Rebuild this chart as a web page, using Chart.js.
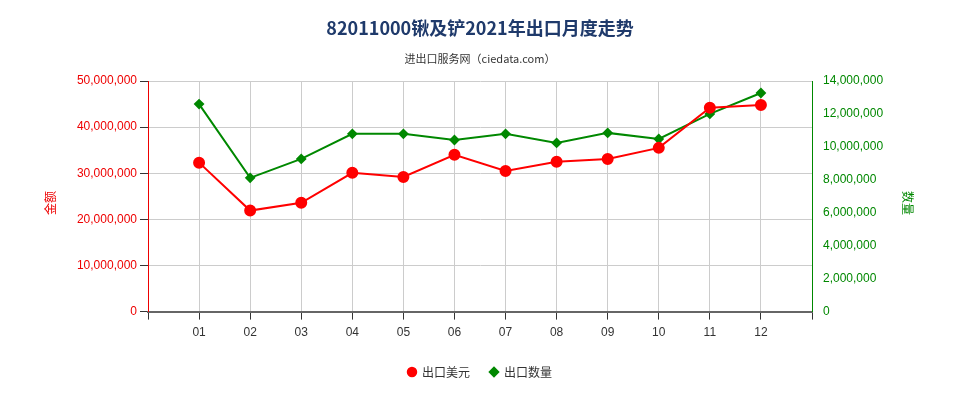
<!DOCTYPE html>
<html><head><meta charset="utf-8">
<script src="https://cdn.jsdelivr.net/npm/chart.js@4"></script>
<style>body{margin:0;background:#fff}</style>
</head><body><canvas id="c" width="960" height="400"></canvas>
<script>
const categories=['','01','02','03','04','05','06','07','08','09','10','11','12',''];
const exportValue=[null,32300000,21900000,23600000,30100000,29200000,34000000,30500000,32500000,33100000,35500000,44200000,44800000,null];
const exportQty=[null,12600000,8120000,9270000,10790000,10790000,10420000,10790000,10240000,10850000,10480000,12000000,13270000,null];
const leftTicks=[0,10000000,20000000,30000000,40000000,50000000];
const rightTicks=[0,2000000,4000000,6000000,8000000,10000000,12000000,14000000];
const F='"Noto Sans CJK SC","Noto Sans",sans-serif';
const titles={id:'titles',afterDraw(ch){const x=ch.ctx;x.save();x.textAlign='center';
x.fillStyle='#1f3a6b';x.font='bold 18px '+F;x.fillText('82011000锹及铲2021年出口月度走势',480,28);
x.fillStyle='#333';x.font='11px '+F;x.fillText('进出口服务网（ciedata.com）',480,59);
x.font='12px '+F;x.fillStyle='#e00';x.save();x.translate(46,203);x.rotate(-Math.PI/2);x.fillText('金额',0,4);x.restore();
x.fillStyle='#080';x.save();x.translate(912,203);x.rotate(Math.PI/2);x.fillText('数量',0,4);x.restore();
x.restore();}};
new Chart(document.getElementById('c'),{type:'line',data:{labels:categories,datasets:[
{label:'出口美元',data:exportValue,borderColor:'#f00',backgroundColor:'#f00',yAxisID:'y',pointRadius:5,pointStyle:'circle',borderWidth:2},
{label:'出口数量',data:exportQty,borderColor:'#080',backgroundColor:'#080',yAxisID:'y1',pointRadius:4,pointStyle:'rectRot',borderWidth:2}]},
options:{responsive:false,animation:false,layout:{padding:{top:81,left:0,right:0,bottom:12}},
plugins:{legend:{position:'bottom',labels:{usePointStyle:true,boxWidth:8,boxHeight:6,padding:20,font:{family:F,size:12},color:'#333'}}},
scales:{x:{offset:false,grid:{color:'#ccc',drawTicks:true,tickColor:'#333'},border:{color:'#666',width:2},ticks:{color:'#333',font:{size:12},autoSkip:false,maxRotation:0,padding:6}},
y:{position:'left',min:0,max:50000000,afterBuildTicks(a){a.ticks=leftTicks.map(v=>({value:v}))},ticks:{color:'#e00',font:{size:12}},grid:{color:'#ccc',tickColor:'#333'},border:{color:'#e00'},afterFit(a){a.width=148}},
y1:{position:'right',min:0,max:14000000,afterBuildTicks(a){a.ticks=rightTicks.map(v=>({value:v}))},ticks:{color:'#080',font:{size:12}},grid:{display:false,tickColor:'#333'},border:{color:'#080'},afterFit(a){a.width=148}}}},
plugins:[titles]});
</script></body></html>
